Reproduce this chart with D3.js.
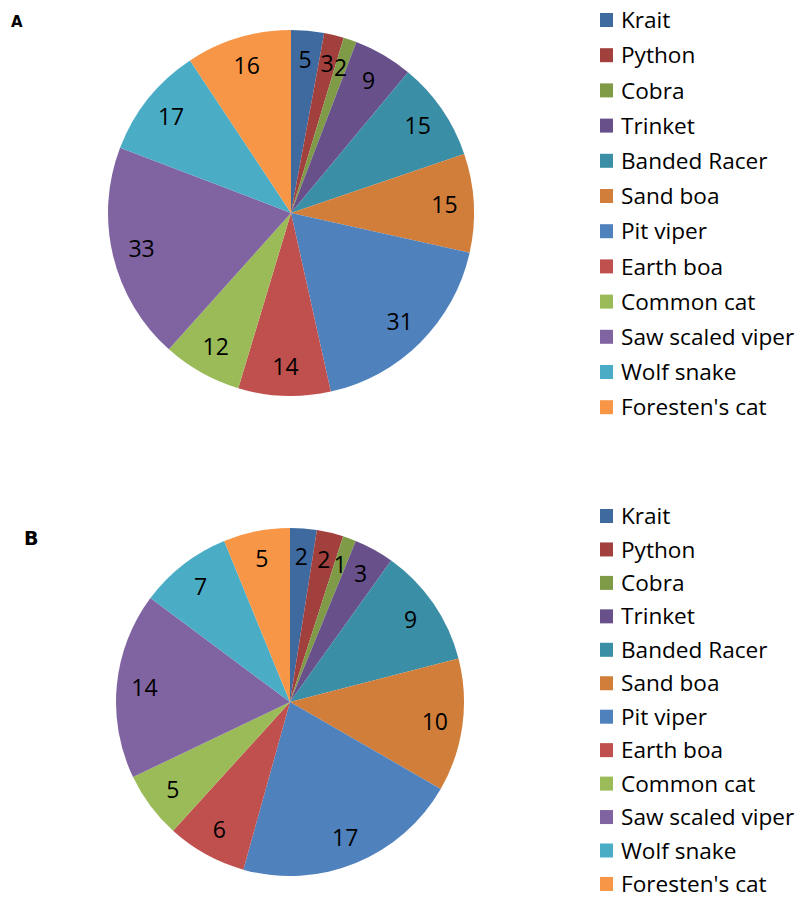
<!DOCTYPE html>
<html>
<head>
<meta charset="utf-8">
<script src="https://cdn.jsdelivr.net/npm/d3@7"></script>
<style>
  html, body { margin: 0; padding: 0; background: #fff; }
  svg { display: block; }
</style>
</head>
<body>
<svg id="chart" width="801" height="898"></svg>
<script>
// Snake species recorded, two survey panels
const species = ["Krait", "Python", "Cobra", "Trinket", "Banded Racer", "Sand boa",
  "Pit viper", "Earth boa", "Common cat", "Saw scaled viper", "Wolf snake", "Foresten's cat"];
const countsA = [5, 3, 2, 9, 15, 15, 31, 14, 12, 33, 17, 16];
const countsB = [2, 2, 1, 3, 9, 10, 17, 6, 5, 14, 7, 5];
const sliceColors = ["#3E6AA0", "#A1403D", "#7F9B48", "#68508A", "#3A8EA5", "#D07E3A",
  "#4F81BD", "#C0504D", "#9BBB59", "#8064A2", "#4BACC6", "#F79646"];

const svg = d3.select("#chart");
const color = d3.scaleOrdinal().domain(species).range(sliceColors);
const textFont = "'Open Sans', sans-serif";

function drawPanel(values, cx, cy, r, panelLetter, letterPos, legend) {
  const rows = species.map((s, i) => ({ name: s, value: values[i] }));
  const pie = d3.pie().value(d => d.value).sort(null);
  const arc = d3.arc().innerRadius(0).outerRadius(r);
  const labelArc = d3.arc().innerRadius(r * 0.84).outerRadius(r * 0.84);
  const g = svg.append("g").attr("transform", `translate(${cx},${cy})`);
  const arcs = pie(rows);

  g.selectAll("path").data(arcs).join("path")
    .attr("d", arc)
    .attr("fill", d => color(d.data.name));

  g.selectAll("text").data(arcs).join("text")
    .attr("transform", d => `translate(${labelArc.centroid(d)})`)
    .attr("text-anchor", "middle")
    .attr("dy", "0.36em")
    .attr("font-family", textFont)
    .attr("font-size", 23)
    .attr("fill", "#000")
    .text(d => d.data.value);

  svg.append("text")
    .attr("x", letterPos[0]).attr("y", letterPos[1])
    .attr("font-family", "'DejaVu Sans', sans-serif")
    .attr("font-weight", "bold")
    .attr("font-size", letterPos[2])
    .attr("fill", "#000")
    .text(panelLetter);

  const lg = svg.append("g");
  const items = lg.selectAll("g").data(species).join("g")
    .attr("transform", (d, i) => `translate(${legend.x},${legend.y + i * legend.step})`);
  items.append("rect")
    .attr("x", 0).attr("y", -7).attr("width", 13).attr("height", 14)
    .attr("fill", d => color(d));
  items.append("text")
    .attr("x", 21).attr("dy", "0.36em")
    .attr("font-family", textFont)
    .attr("font-size", 22.6)
    .attr("fill", "#000")
    .text(d => d);
}

drawPanel(countsA, 291, 213, 183, "A", [11, 27, 15], { x: 600, y: 20, step: 35.2 });
drawPanel(countsB, 290, 702, 174, "B", [24, 545, 19], { x: 600, y: 516, step: 33.45 });
</script>
</body>
</html>
